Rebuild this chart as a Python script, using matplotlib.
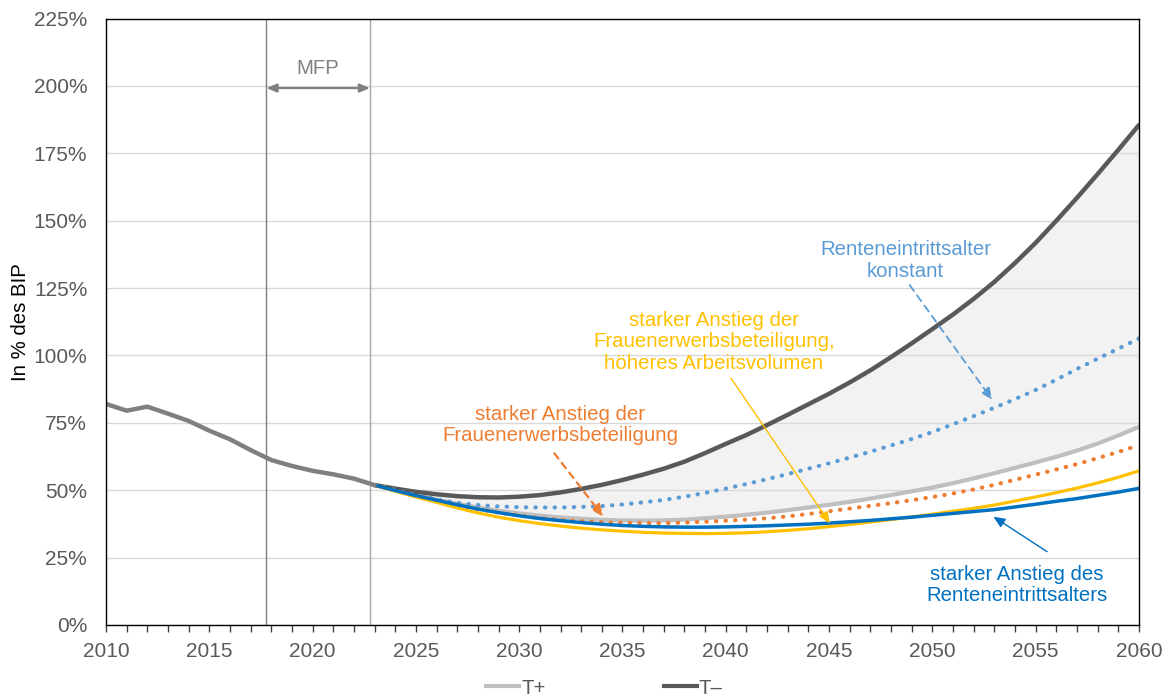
import matplotlib
matplotlib.use("Agg")
import matplotlib.pyplot as plt
from matplotlib.lines import Line2D
from matplotlib.ticker import MultipleLocator, FuncFormatter

plt.rcParams['font.family'] = ['Liberation Sans', 'DejaVu Sans']

# Schuldenstand in % des BIP
years_hist = list(range(2010, 2024))
hist = [82.0, 79.5, 81.0, 78.4, 75.7, 72.1, 68.9, 64.9, 61.2, 59.0, 57.2, 55.9, 54.3, 51.9]

years_proj = list(range(2023, 2061))
t_minus = [51.9, 50.6, 49.4, 48.5, 47.8, 47.4, 47.3, 47.6, 48.2, 49.2,
           50.5, 52.0, 53.8, 55.8, 58.0, 60.6, 63.8, 67.2, 70.5, 74.2,
           78.0, 81.9, 85.8, 90.0, 94.5, 99.4, 104.5, 109.8, 115.2, 121.0,
           127.3, 134.3, 141.8, 150.0, 158.5, 167.3, 176.3, 185.5]
t_plus = [51.9, 50.0, 48.2, 46.5, 45.0, 43.6, 42.4, 41.4, 40.6, 39.9,
          39.4, 39.0, 38.8, 38.7, 38.8, 39.1, 39.6, 40.2, 40.9, 41.7,
          42.6, 43.6, 44.6, 45.7, 46.9, 48.2, 49.6, 51.0, 52.6, 54.4,
          56.3, 58.3, 60.3, 62.4, 64.7, 67.3, 70.3, 73.5]
rente_konstant = [51.9, 50.0, 48.2, 46.6, 45.3, 44.5, 44.0, 43.7, 43.6, 43.6,
                  43.8, 44.1, 44.7, 45.5, 46.4, 47.6, 49.0, 50.6, 52.3, 54.1,
                  56.0, 58.0, 60.0, 62.1, 64.3, 66.6, 69.0, 71.6, 74.5, 77.5,
                  80.6, 83.8, 87.2, 91.0, 95.0, 98.8, 102.5, 106.3]
frauen = [51.9, 50.0, 48.0, 46.2, 44.5, 43.0, 41.7, 40.6, 39.7, 39.0,
          38.5, 38.1, 37.9, 37.8, 37.8, 38.0, 38.3, 38.7, 39.1, 39.6,
          40.3, 41.2, 42.2, 43.2, 44.2, 45.2, 46.3, 47.5, 48.8, 50.3,
          52.0, 53.9, 55.8, 57.7, 59.7, 61.9, 64.2, 66.7]
frauen_volumen = [51.9, 49.6, 47.5, 45.5, 43.4, 41.6, 40.0, 38.7, 37.6, 36.7,
                  35.9, 35.3, 34.8, 34.4, 34.1, 34.0, 33.9, 34.0, 34.2, 34.6,
                  35.1, 35.7, 36.5, 37.3, 38.2, 39.1, 40.1, 41.1, 42.2, 43.3,
                  44.5, 46.0, 47.5, 49.1, 50.8, 52.7, 54.8, 57.2]
rente_stark = [51.9, 49.9, 48.0, 46.3, 44.6, 43.0, 41.7, 40.5, 39.5, 38.7,
               38.0, 37.4, 36.9, 36.6, 36.4, 36.3, 36.3, 36.4, 36.6, 36.8,
               37.1, 37.4, 37.8, 38.3, 38.8, 39.4, 40.0, 40.7, 41.4, 42.1,
               42.8, 43.8, 44.8, 45.9, 46.9, 48.1, 49.3, 50.7]

mfp_start, mfp_end = 2017.76, 2022.78

C_HIST = '#7F7F7F'
C_TMINUS = '#595959'
C_TPLUS = '#BFBFBF'
C_BLUE_LIGHT = '#5B9BD5'
C_ORANGE = '#ED7D31'
C_YELLOW = '#FFC000'
C_BLUE = '#0070C0'
C_TEXT = '#595959'

fig = plt.figure(figsize=(11.7, 6.98), dpi=100)
ax = fig.add_axes([106 / 1170, 1 - 625 / 698, 1033 / 1170, 606.5 / 698])

ax.set_xlim(2010, 2060)
ax.set_ylim(0, 225)
ax.set_axisbelow(True)
ax.yaxis.grid(True, color='#D9D9D9', lw=1.0)

# Corridor between the two scenarios
ax.fill_between(years_proj, t_plus, t_minus, color='#F2F2F2', lw=0, zorder=0.3)

# Medium-term financial planning period
ax.axvline(mfp_start, color='#7F7F7F', lw=1.0, zorder=1)
ax.axvline(mfp_end, color='#A6A6A6', lw=1.0, zorder=1)
ax.annotate('', xy=(mfp_start, 199.2), xytext=(mfp_end, 199.2),
            arrowprops=dict(arrowstyle='<|-|>,head_length=0.6,head_width=0.25',
                            color='#808080', lw=1.6, shrinkA=0, shrinkB=0))
ax.text((mfp_start + mfp_end) / 2, 206.5, 'MFP', color='#808080', fontsize=14.7,
        ha='center', va='center')

dot = dict(dashes=(0.1, 2.2), dash_capstyle='round', solid_capstyle='round')

ax.plot(years_proj, t_plus, color=C_TPLUS, lw=3.0, zorder=2, solid_capstyle='round')
ax.plot(years_proj, t_minus, color=C_TMINUS, lw=3.2, zorder=2.1, solid_capstyle='round')
ax.plot(years_proj, rente_konstant, color=C_BLUE_LIGHT, lw=3.0, zorder=2.2, **dot)
ax.plot(years_proj, frauen, color=C_ORANGE, lw=3.0, zorder=2.3, **dot)
ax.plot(years_proj, frauen_volumen, color=C_YELLOW, lw=2.3, zorder=2.4)
ax.plot(years_proj, rente_stark, color=C_BLUE, lw=2.5, zorder=2.5)
ax.plot(years_hist, hist, color=C_HIST, lw=3.2, zorder=2.6, solid_capstyle='round')

fs = 14.7
ax.text(2048.7, 135.2, 'Renteneintrittsalter\nkonstant', color=C_BLUE_LIGHT,
        fontsize=fs, ha='center', va='center', linespacing=1.15)
ax.annotate('', xy=(2052.9, 83.5), xytext=(2048.9, 126.1),
            arrowprops=dict(arrowstyle='-|>,head_length=0.7,head_width=0.3',
                            color=C_BLUE_LIGHT, lw=1.3, linestyle=(0, (4, 3)),
                            shrinkA=0, shrinkB=0))

ax.text(2039.43, 105.0, 'starker Anstieg der\nFrauenerwerbsbeteiligung,\nhöheres Arbeitsvolumen',
        color=C_YELLOW, fontsize=fs, ha='center', va='center', linespacing=1.15)
ax.annotate('', xy=(2045.04, 37.7), xytext=(2040.25, 91.6),
            arrowprops=dict(arrowstyle='-|>,head_length=0.7,head_width=0.3',
                            color=C_YELLOW, lw=1.0, shrinkA=0, shrinkB=0))

ax.text(2031.97, 74.1, 'starker Anstieg der\nFrauenerwerbsbeteiligung',
        color=C_ORANGE, fontsize=fs, ha='center', va='center', linespacing=1.15)
ax.annotate('', xy=(2034.07, 40.2), xytext=(2031.7, 63.7),
            arrowprops=dict(arrowstyle='-|>,head_length=0.7,head_width=0.3',
                            color=C_ORANGE, lw=1.6, linestyle=(0, (3, 2.5)),
                            shrinkA=0, shrinkB=0))

ax.text(2054.1, 14.8, 'starker Anstieg des\nRenteneintrittsalters',
        color=C_BLUE, fontsize=fs, ha='center', va='center', linespacing=1.15)
ax.annotate('', xy=(2052.95, 40.2), xytext=(2055.55, 27.2),
            arrowprops=dict(arrowstyle='-|>,head_length=0.7,head_width=0.3',
                            color=C_BLUE, lw=1.0, shrinkA=0, shrinkB=0))

# Axes styling
ax.xaxis.set_major_locator(MultipleLocator(5))
ax.xaxis.set_minor_locator(MultipleLocator(1))
ax.yaxis.set_major_locator(MultipleLocator(25))
ax.yaxis.set_major_formatter(FuncFormatter(lambda v, p: f'{v:.0f}%'))
ax.tick_params(axis='x', which='both', direction='out', length=5, width=1,
               color='#404040', labelsize=15, labelcolor=C_TEXT, pad=7)
ax.tick_params(axis='y', length=0, labelsize=15, labelcolor=C_TEXT, pad=13.5)
for s in ax.spines.values():
    s.set_color('#000000')
    s.set_linewidth(1.0)
    s.set_zorder(3)

ax.set_ylabel('In % des BIP', fontsize=14.7, color='#000000')
ax.yaxis.set_label_coords(-0.074, 0.5)

handles = [Line2D([], [], color=C_TPLUS, lw=3.0), Line2D([], [], color=C_TMINUS, lw=3.0)]
fig.legend(handles, ['T+', 'T–'], loc='center', ncol=2, frameon=False,
           bbox_to_anchor=(604.5 / 1170, 1 - 688 / 698), fontsize=14.7,
           handlelength=1.6, handletextpad=0.1, columnspacing=5.8,
           labelcolor=C_TEXT)

fig.savefig('out.png', dpi=100)
